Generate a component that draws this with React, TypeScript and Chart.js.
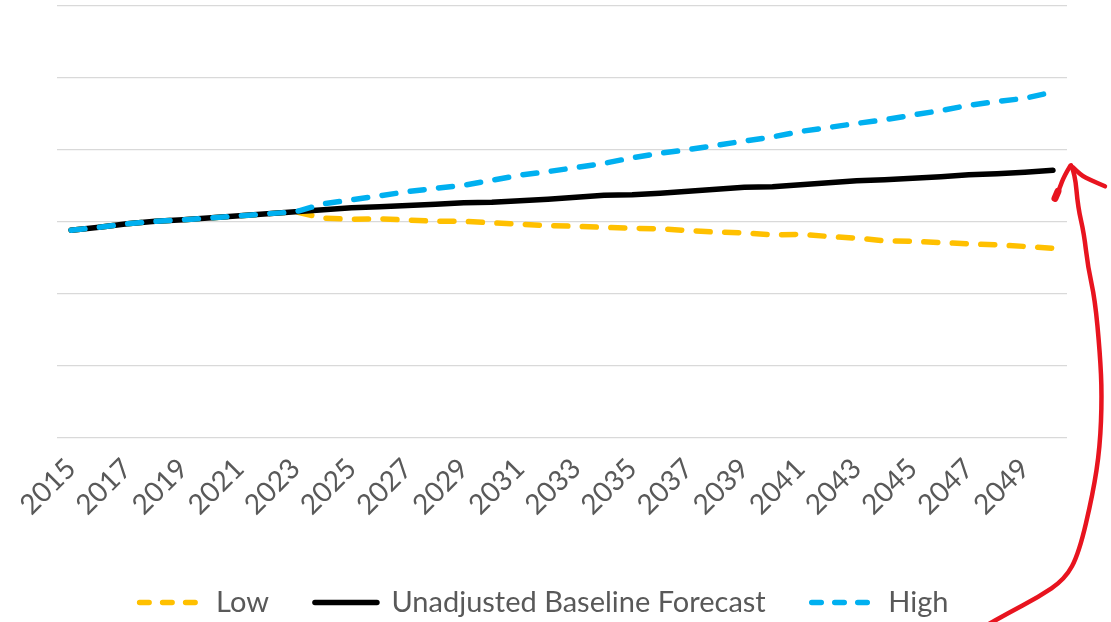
import React, { useEffect, useRef } from "react";
import { Chart, registerables } from "chart.js";

Chart.register(...registerables);

// Forecast years (category axis)
const years = [
  "2015", "2016", "2017", "2018", "2019", "2020", "2021", "2022", "2023", "2024",
  "2025", "2026", "2027", "2028", "2029", "2030", "2031", "2032", "2033", "2034",
  "2035", "2036", "2037", "2038", "2039", "2040", "2041", "2042", "2043", "2044",
  "2045", "2046", "2047", "2048", "2049", "2050",
];

const lowSeries = [
  288.5, 292.6, 297.5, 301.0, 303.1, 305.8, 308.6, 311.4, 314.2, 305.4,
  303.8, 304.4, 302.8, 301.0, 301.0, 298.9, 297.1, 295.0, 294.0, 292.6,
  291.3, 290.6, 288.1, 286.0, 285.0, 282.2, 282.9, 279.9, 277.6, 273.9,
  273.2, 271.4, 269.7, 268.3, 266.0, 263.5,
];

const baselineSeries = [
  288.5, 292.6, 297.5, 301.0, 303.1, 305.8, 308.6, 311.4, 314.2, 316.9,
  319.7, 321.1, 322.8, 324.6, 326.7, 327.4, 329.4, 331.5, 334.3, 337.1,
  337.8, 339.9, 342.6, 345.4, 348.2, 348.9, 351.7, 354.4, 357.2, 358.6,
  360.7, 362.8, 365.6, 366.9, 369.0, 371.8,
];

const highSeries = [
  288.5, 292.6, 297.5, 301.0, 303.1, 305.8, 308.6, 311.4, 314.2, 325.3,
  330.8, 336.4, 342.2, 346.8, 351.0, 357.9, 365.1, 370.0, 375.7, 381.5,
  389.2, 395.4, 400.6, 406.5, 412.5, 418.1, 425.8, 431.3, 436.9, 441.9,
  448.6, 454.7, 462.1, 467.4, 471.8, 480.6,
];

const seriesNames = ["Low", "Unadjusted Baseline Forecast", "High"];
const seriesColors = ["#FFC000", "#000000", "#00B0F0"];
const seriesDashed = [true, false, true];

const yMin = 0;
const yMax = 600;
const yStep = 100;

const FONT = "Lato, 'Open Sans', sans-serif";
const TEXT_COLOR = "#595959";
const LINE_WIDTH = 5.5;

// Freehand red arrow, as offsets from its tip; the tip sits just right of
// the last baseline point.
const arrowShaft = [
  [0, 0], [4, 8], [7, 42], [13, 68], [17, 102], [24, 134], [29, 188], [31, 230],
  [29, 282], [22, 328], [8, 388], [-6, 414], [-33, 432], [-63, 448], [-88, 462],
];
const arrowLeftBarb = [[-1, 1], [-7, 11], [-11, 22], [-16, 34]];
const arrowRightBarb = [[2, 2], [10, 10], [20, 15], [34, 21]];

function strokeSmooth(ctx: CanvasRenderingContext2D, pts: number[][], ox: number, oy: number) {
  ctx.beginPath();
  ctx.moveTo(ox + pts[0][0], oy + pts[0][1]);
  for (let i = 1; i < pts.length - 1; i++) {
    const mx = (pts[i][0] + pts[i + 1][0]) / 2;
    const my = (pts[i][1] + pts[i + 1][1]) / 2;
    ctx.quadraticCurveTo(ox + pts[i][0], oy + pts[i][1], ox + mx, oy + my);
  }
  const end = pts[pts.length - 1];
  ctx.lineTo(ox + end[0], oy + end[1]);
  ctx.stroke();
}

const arrowPlugin = {
  id: "redArrow",
  afterDraw(chart: any) {
    const meta = chart.getDatasetMeta(1);
    const last = meta.data[meta.data.length - 1];
    if (!last) return;
    const tipX = last.x + 18;
    const tipY = last.y - 5;
    const ctx = chart.ctx;
    ctx.save();
    ctx.strokeStyle = "#E8141F";
    ctx.lineWidth = 4.5;
    ctx.lineCap = "round";
    ctx.lineJoin = "round";
    strokeSmooth(ctx, arrowShaft, tipX, tipY);
    strokeSmooth(ctx, arrowLeftBarb, tipX, tipY);
    strokeSmooth(ctx, arrowRightBarb, tipX, tipY);
    // heavier pen stroke at the end of the left barb
    ctx.lineWidth = 7;
    ctx.beginPath();
    ctx.moveTo(tipX - 13, tipY + 26);
    ctx.lineTo(tipX - 16, tipY + 33);
    ctx.stroke();
    ctx.restore();
  },
};

// Nudges the legend row to sit a little lower and left.
const legendShift = {
  id: "legendShift",
  afterLayout(chart: any) {
    const lg = chart.legend;
    if (!lg) return;
    lg.left -= 18;
    lg.right -= 18;
    lg.top += 5;
    lg.bottom += 5;
  },
};

export default function App() {
  const canvasRef = useRef<HTMLCanvasElement | null>(null);

  useEffect(() => {
    if (!canvasRef.current) return;
    const dashed = [14, 14.5];
    const seriesData = [lowSeries, baselineSeries, highSeries];
    const chart = new Chart(canvasRef.current, {
      type: "line",
      data: {
        labels: years,
        datasets: seriesNames.map((name, i) => ({
          label: name,
          data: seriesData[i],
          borderColor: seriesColors[i],
          backgroundColor: seriesColors[i],
          borderWidth: LINE_WIDTH,
          borderDash: seriesDashed[i] ? dashed : [],
          borderCapStyle: "round",
          borderJoinStyle: "round",
          pointRadius: 0,
          tension: 0,
          // High drawn on top, then baseline, then Low
          order: 3 - i,
        })),
      },
      options: {
        animation: false,
        responsive: true,
        maintainAspectRatio: false,
        layout: { padding: { top: 6, left: 57, right: 44, bottom: 0 } },
        scales: {
          x: {
            offset: true,
            grid: { display: false },
            border: { display: false },
            ticks: {
              autoSkip: false,
              minRotation: 45,
              maxRotation: 45,
              padding: 6,
              color: TEXT_COLOR,
              font: { family: FONT, size: 28 },
              callback: (_v: any, i: number) => (i % 2 === 0 ? years[i] : ""),
            },
            afterFit: (scale: any) => {
              scale.height = 99;
            },
          },
          y: {
            min: yMin,
            max: yMax,
            grid: { color: "#D9D9D9", lineWidth: 1.3, drawTicks: false },
            border: { display: false },
            ticks: { display: false, stepSize: yStep },
            afterFit: (scale: any) => {
              scale.width = 0;
            },
          },
        },
        plugins: {
          tooltip: { enabled: false },
          legend: {
            position: "bottom",
            labels: {
              usePointStyle: true,
              pointStyle: "line",
              pointStyleWidth: 62,
              padding: 46,
              color: TEXT_COLOR,
              font: { family: FONT, size: 29 },
              generateLabels: (c: any) => {
                const items = Chart.defaults.plugins.legend.labels.generateLabels(c);
                return items
                  .map((it: any) => ({
                    ...it,
                    pointStyle: "line",
                    strokeStyle: seriesColors[it.datasetIndex],
                    fillStyle: seriesColors[it.datasetIndex],
                    lineWidth: LINE_WIDTH,
                    lineCap: "round",
                    lineDash: seriesDashed[it.datasetIndex] ? [9.5, 13.5] : [],
                  }))
                  .sort((a: any, b: any) => a.datasetIndex - b.datasetIndex);
              },
            },
          },
        },
      },
      plugins: [arrowPlugin, legendShift],
    });
    return () => chart.destroy();
  }, []);

  return (
    <div
      style={{
        position: "fixed",
        left: 0,
        top: 0,
        width: 1111,
        height: 622,
        background: "#ffffff",
      }}
    >
      <canvas ref={canvasRef} />
    </div>
  );
}
